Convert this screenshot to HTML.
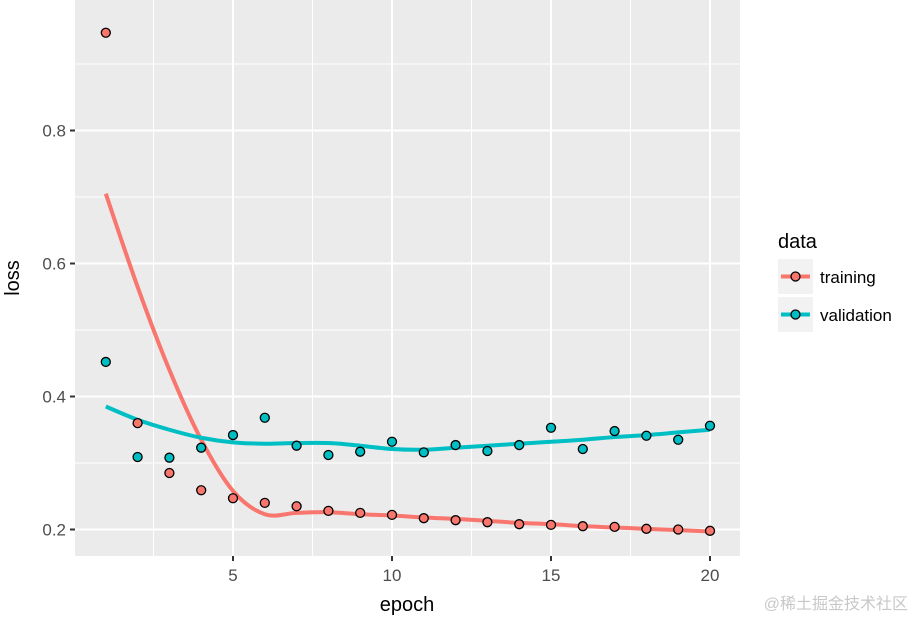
<!DOCTYPE html>
<html><head><meta charset="utf-8"><style>
body{margin:0;background:#fff;}
svg{display:block;font-family:"Liberation Sans",Arial,sans-serif;}
</style></head><body>
<svg id="chart" width="914" height="618"></svg>
<script>
const epochs=[1,2,3,4,5,6,7,8,9,10,11,12,13,14,15,16,17,18,19,20];
const trainLoss=[0.947,0.360,0.285,0.259,0.247,0.240,0.235,0.228,0.225,0.222,0.217,0.214,0.211,0.208,0.207,0.205,0.204,0.201,0.200,0.198];
const valLoss=[0.452,0.309,0.308,0.323,0.342,0.368,0.326,0.312,0.317,0.332,0.316,0.327,0.318,0.327,0.353,0.321,0.348,0.341,0.335,0.356];
const trainSmooth=[0.705,0.565,0.440,0.335,0.258,0.223,0.225,0.226,0.223,0.221,0.218,0.216,0.213,0.210,0.208,0.205,0.203,0.201,0.199,0.197];
const valSmooth=[0.385,0.365,0.350,0.338,0.331,0.329,0.330,0.330,0.326,0.321,0.320,0.323,0.326,0.329,0.332,0.335,0.339,0.342,0.346,0.350];
const xTicks=[5,10,15,20];
const yTicks=[0.2,0.4,0.6,0.8];
const NS="http://www.w3.org/2000/svg";
const svg=document.getElementById('chart');
const P={l:75,r:740,t:0,b:556};
const x=v=>233+(v-5)*(477/15);
const y=v=>529.5-(v-0.2)*665;
function el(tag,a,parent){const e=document.createElementNS(NS,tag);for(const k in a)e.setAttribute(k,a[k]);(parent||svg).appendChild(e);return e;}
const panel=el('rect',{x:P.l,y:P.t,width:P.r-P.l,height:P.b-P.t,fill:'#ebebeb'});


const grid=el('g',{});


[0.3,0.5,0.7,0.9].forEach(v=>el('line',{x1:P.l,x2:P.r,y1:y(v),y2:y(v),stroke:'#fff','stroke-width':1},grid));
[2.5,7.5,12.5,17.5].forEach(v=>el('line',{x1:x(v),x2:x(v),y1:P.t,y2:P.b,stroke:'#fff','stroke-width':1},grid));
yTicks.forEach(v=>{
  el('line',{x1:P.l,x2:P.r,y1:y(v),y2:y(v),stroke:'#fff','stroke-width':2},grid);
  el('line',{x1:P.l-5,x2:P.l,y1:y(v),y2:y(v),stroke:'#333','stroke-width':2});
  const t=el('text',{x:P.l-9,y:y(v)+6,'text-anchor':'end','font-size':17,fill:'#4d4d4d'});
  t.textContent=v.toFixed(1);
  
  
});
xTicks.forEach(v=>{
  el('line',{x1:x(v),x2:x(v),y1:P.t,y2:P.b,stroke:'#fff','stroke-width':2},grid);
  el('line',{x1:x(v),x2:x(v),y1:P.b,y2:P.b+5,stroke:'#333','stroke-width':2});
  const t=el('text',{x:x(v),y:P.b+25,'text-anchor':'middle','font-size':17,fill:'#4d4d4d'});
  t.textContent=v;
  
  
});
function line(vals,col,name){
  const p=vals.map((v,i)=>[x(epochs[i]),y(v)]);
  let d='M'+p[0][0]+','+p[0][1];
  for(let i=0;i<p.length-1;i++){
    const p0=p[Math.max(i-1,0)],p1=p[i],p2=p[i+1],p3=p[Math.min(i+2,p.length-1)];
    const c1=[p1[0]+(p2[0]-p0[0])/6,p1[1]+(p2[1]-p0[1])/6];
    const c2=[p2[0]-(p3[0]-p1[0])/6,p2[1]-(p3[1]-p1[1])/6];
    d+=' C'+c1[0]+','+c1[1]+' '+c2[0]+','+c2[1]+' '+p2[0]+','+p2[1];
  }
  const e=el('path',{d:d,fill:'none',stroke:col,'stroke-width':4,'stroke-linejoin':'round'});
  
  
}
function pts(vals,col,name){
  vals.forEach((v,i)=>{
    const c=el('circle',{cx:x(epochs[i]),cy:y(v),r:4.5,fill:col,stroke:'#000','stroke-width':1.3});
    
    
  });
}
line(trainSmooth,'#f8766d','training-smooth-line');
line(valSmooth,'#00bfc4','validation-smooth-line');
pts(trainLoss,'#f8766d','training-point');
pts(valLoss,'#00bfc4','validation-point');
const yt=el('text',{x:0,y:0,transform:'translate(19,278) rotate(-90)','text-anchor':'middle','font-size':20,fill:'#000'});
yt.textContent='loss';


const xt=el('text',{x:407,y:611,'text-anchor':'middle','font-size':20,fill:'#000'});
xt.textContent='epoch';


const lg=el('g',{});


const lt=el('text',{x:778,y:248,'font-size':20,fill:'#000'},lg);
lt.textContent='data';


[['training','#f8766d',259],['validation','#00bfc4',297]].forEach(([n,c,ty])=>{
  const g=el('g',{},lg);
  
  
  el('rect',{x:778,y:ty,width:35,height:35,fill:'#f2f2f2'},g);
  el('line',{x1:781,x2:810,y1:ty+17.5,y2:ty+17.5,stroke:c,'stroke-width':4},g);
  el('circle',{cx:795.5,cy:ty+17.5,r:4.5,fill:c,stroke:'#000','stroke-width':1.3},g);
  const t=el('text',{x:820,y:ty+24,'font-size':17,fill:'#000'},g);
  t.textContent=n;
});
const wm=el('text',{x:908,y:609,'text-anchor':'end','font-size':16,fill:'#c8c8c8','font-family':'"Liberation Sans","Noto Sans CJK SC",sans-serif'});
wm.textContent='@稀土掘金技术社区';


</script>
</body></html>
